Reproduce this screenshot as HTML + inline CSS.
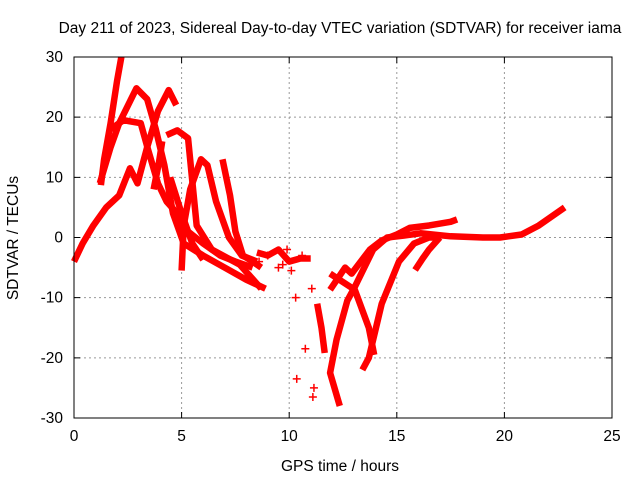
<!DOCTYPE html>
<html><head><meta charset="utf-8">
<style>
body{margin:0;background:#fff;}
svg{display:block;font-family:"Liberation Sans",sans-serif;}
</style></head>
<body>
<svg id="chart" width="640" height="480" viewBox="0 0 640 480">
<text x="340" y="33" font-size="15.5" text-anchor="middle">Day 211 of 2023, Sidereal Day-to-day VTEC variation (SDTVAR) for receiver iama</text>
<text x="340" y="471" font-size="15.5" text-anchor="middle">GPS time / hours</text>
<text transform="translate(18,238) rotate(-90)" font-size="15.5" text-anchor="middle">SDTVAR / TECUs</text>
<g id="grid"></g>
<g id="ticks"></g>
<g id="series"></g>
<g id="pts"></g>
<rect x="74" y="57" width="538" height="361" fill="none" stroke="#000" stroke-width="1"/>
</svg>
<script>
const xTicks=[0,5,10,15,20,25];
const yTicks=[-30,-20,-10,0,10,20,30];
// tracks: hours and values
const trackA_h=[0,0.4,0.9,1.5,2.1,2.6,2.95,3.4,3.9,4.4,4.75];
const trackA_v=[-4,-1,2,5,7,11.5,9,15,21,24.5,22];
const trackB_h=[1.25,1.4,1.7,2.0,2.2];
const trackB_v=[8.7,13,19,26,30];
const trackC_h=[1.2,1.7,2.1,2.9,3.4,3.8,4.2,4.6,5.1,6,7,8,8.9];
const trackC_v=[9,15,19,24.8,23,18,12,4,-1,-3,-5,-7,-8.5];
const trackD_h=[1.7,2.3,3.1,3.45,3.9,4.3,4.8,5.3,6,6.8,7.5,8.3];
const trackD_v=[18,19.5,19,14.5,9,6,4,1,-1,-3,-4,-5];
const trackE_h=[4.3,4.8,5.3,5.7,6.4,7.7,8.7];
const trackE_v=[17,17.8,16.5,2,-2,-4.5,-8.5];
const trackF_h=[5,5.1,5.4,5.9,6.2,6.6,7.2,7.8,8.5];
const trackF_v=[-5.5,2,8,13,12,6,0,-3,-4];
const trackG_h=[6.9,7.25,7.5,7.85,8.3,8.7];
const trackG_v=[13,7,1,-3,-4,-5];
const trackI_h=[4.47,5.0,5.5,6.0];
const trackI_v=[10,4,-1,-3.7];
const trackH_h=[3.7,3.95,4.1];
const trackH_v=[8,12.5,16];
const trackJ_h=[11.3,11.5,11.65];
const trackJ_v=[-11,-15,-19.2];
const trackK_h=[12.35,11.9,12.2,12.7,13.05,13.9,14.55,15.3,16.1,17.5,19,19.8,20.8,21.6,22.8];
const trackK_v=[-28,-22.5,-17,-10.5,-8.2,-2,0,0.3,0.7,0.2,0,0,0.5,2,5];
const trackL_h=[11.9,12.6,12.9,13.75,14.3,15.0,15.6,16.5,17.5,17.8];
const trackL_v=[-8.7,-5,-6,-2,-0.5,0.5,1.6,2,2.6,3];
const trackM_h=[11.9,13.05,13.7,13.95];
const trackM_v=[-6,-8.7,-15,-19.5];
const trackN_h=[13.4,13.7,14.3,15.1,15.8,16.5,17];
const trackN_v=[-22,-20,-11,-4,-1,0,0];
const trackO_h=[15.85,16.2,16.5,17];
const trackO_v=[-5.4,-3.5,-2,0];
const trackP_h=[8.5,9.0,9.5,10,10.5,11];
const trackP_v=[-2.5,-3,-2,-4,-3.5,-3.5];
const tracks=[[trackA_h,trackA_v],[trackB_h,trackB_v],[trackC_h,trackC_v],[trackD_h,trackD_v],[trackE_h,trackE_v],[trackF_h,trackF_v],[trackG_h,trackG_v],[trackI_h,trackI_v],[trackH_h,trackH_v],[trackJ_h,trackJ_v],[trackK_h,trackK_v],[trackL_h,trackL_v],[trackM_h,trackM_v],[trackN_h,trackN_v],[trackO_h,trackO_v],[trackP_h,trackP_v]];
const ptsH=[10.3,10.35,10.75,11.05,11.1,11.15,9.5,9.9,10.1,9.0,8.6,9.7,10.6];
const ptsV=[-10,-23.5,-18.5,-8.5,-26.5,-25,-5,-2,-5.5,-3,-4,-4.5,-3];
const NS="http://www.w3.org/2000/svg";
const X0=74,X1=612,Y0=418,Y1=57;
function xs(h){return X0+(h-0)/(25-0)*(X1-X0);}
function ys(v){return Y0-(v+30)/60*(Y0-Y1);}
const grid=document.getElementById('grid'),ticks=document.getElementById('ticks');
xTicks.forEach(t=>{
  const x=xs(t);
  if(t>0&&t<25){const l=document.createElementNS(NS,'line');
    l.setAttribute('x1',x);l.setAttribute('x2',x);l.setAttribute('y1',Y1);l.setAttribute('y2',Y0);
    l.setAttribute('stroke','#999');l.setAttribute('stroke-dasharray','2,3');
    
    
    grid.appendChild(l);}
  const tk=document.createElementNS(NS,'path');
  tk.setAttribute('d',`M${x},${Y0}v-6M${x},${Y1}v6`);tk.setAttribute('stroke','#000');
  
  
  ticks.appendChild(tk);
  const tx=document.createElementNS(NS,'text');
  tx.setAttribute('x',x);tx.setAttribute('y',Y0+23);tx.setAttribute('font-size','15.5');tx.setAttribute('text-anchor','middle');
  tx.textContent=t;
  
  
  ticks.appendChild(tx);
});
yTicks.forEach(t=>{
  const y=ys(t);
  if(t>-30&&t<30){const l=document.createElementNS(NS,'line');
    l.setAttribute('x1',X0);l.setAttribute('x2',X1);l.setAttribute('y1',y);l.setAttribute('y2',y);
    l.setAttribute('stroke','#999');l.setAttribute('stroke-dasharray','2,3');
    
    
    grid.appendChild(l);}
  const tk=document.createElementNS(NS,'path');
  tk.setAttribute('d',`M${X0},${y}h6M${X1},${y}h-6`);tk.setAttribute('stroke','#000');
  
  
  ticks.appendChild(tk);
  const tx=document.createElementNS(NS,'text');
  tx.setAttribute('x',X0-11);tx.setAttribute('y',y+5);tx.setAttribute('font-size','15.5');tx.setAttribute('text-anchor','end');
  tx.textContent=t;
  
  
  ticks.appendChild(tx);
});
const sg=document.getElementById('series');
tracks.forEach(([H,V])=>{
  const p=document.createElementNS(NS,'polyline');
  p.setAttribute('points',H.map((h,i)=>xs(h)+','+ys(V[i])).join(' '));
  p.setAttribute('fill','none');p.setAttribute('stroke','#f00');p.setAttribute('stroke-width','6.5');
  p.setAttribute('stroke-linejoin','round');
  
  
  sg.appendChild(p);
});
const pg=document.getElementById('pts');
ptsH.forEach((h,i)=>{
  const m=document.createElementNS(NS,'path');
  const x=xs(h),y=ys(ptsV[i]);
  m.setAttribute('d',`M${x-4},${y}h8M${x},${y-4}v8`);
  m.setAttribute('stroke','#f00');m.setAttribute('stroke-width','1.5');
  
  
  pg.appendChild(m);
});
</script>
</body></html>
